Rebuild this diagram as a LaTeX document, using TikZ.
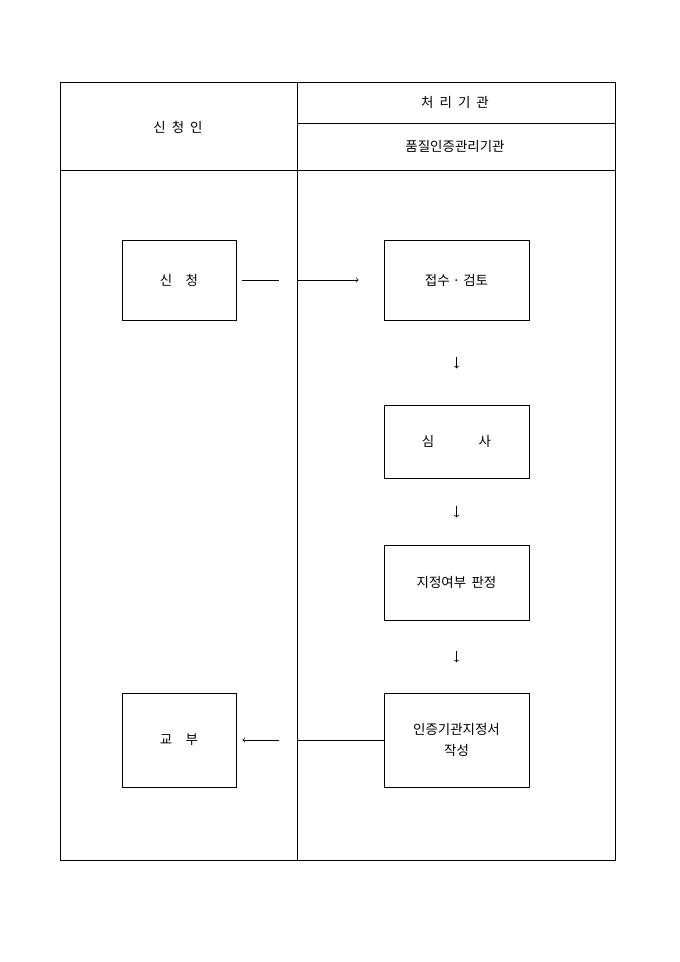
\documentclass[tikz,border=0pt]{standalone}
\usepackage{fontspec}
\setmainfont{Noto Sans CJK KR}
\usetikzlibrary{calc}

\begin{document}
\begin{tikzpicture}[x=0.03cm, y=-0.03cm, line width=0.6pt,
    every node/.style={font=\fontsize{11.5pt}{18pt}\selectfont},
    box/.style={shape=rectangle, draw=black, inner sep=0pt, align=center}]
  \useasboundingbox (0,0) rectangle (680,962);
  % table frame
  \draw (60,82) rectangle (615,860);
  \draw (297,82) -- (297,860);
  \draw (297,123) -- (615,123);
  \draw (60,170) -- (615,170);
  \node (applicant) at (178,127) {신\hspace{0.45em}청\hspace{0.45em}인};
  \node (agency) at (455,102) {처\hspace{0.45em}리\hspace{0.45em}기\hspace{0.45em}관};
  \node (qcenter) at (455,146) {품질인증관리기관};
  % boxes
  \node[box, minimum width=3.42cm, minimum height=2.4cm] (req) at (179,280) {신\quad 청};
  \node[box, minimum width=4.35cm, minimum height=2.4cm] (recv) at (456.5,280) {접수 · 검토};
  \node[box, minimum width=4.35cm, minimum height=2.19cm] (review) at (456.5,441.5) {심\hspace{3.3em}사};
  \node[box, minimum width=4.35cm, minimum height=2.25cm] (decide) at (456.5,582.5) {지정여부\hspace{0.4em}판정};
  \node[box, minimum width=4.35cm, minimum height=2.82cm] (issue) at (456.5,740) {인증기관지정서\\작성};
  \node[box, minimum width=3.42cm, minimum height=2.82cm] (deliver) at (179,740) {교\quad 부};
  % flow
  \draw ($(req.east)+(6,0)$) -- ($(req.east)+(43,0)$);
  \draw[->] ($(recv.west)+(-87,0)$) -- ($(recv.west)+(-25,0)$);
  \draw[->] ($(recv.south)!0.43!(review.north)$) -- ($(recv.south)!0.57!(review.north)$);
  \draw[->] ($(review.south)!0.41!(decide.north)$) -- ($(review.south)!0.59!(decide.north)$);
  \draw[->] ($(decide.south)!0.42!(issue.north)$) -- ($(decide.south)!0.58!(issue.north)$);
  \draw (issue.west) -- ($(issue.west)+(-87,0)$);
  \draw[->] ($(deliver.east)+(43,0)$) -- ($(deliver.east)+(6,0)$);
\end{tikzpicture}
\end{document}
